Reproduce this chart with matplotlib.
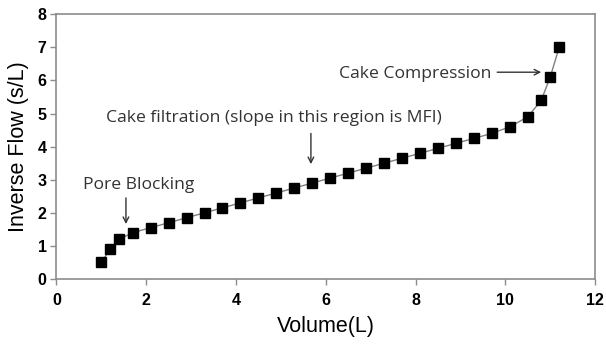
import numpy as np
import matplotlib.pyplot as plt

# filtration test: inverse flow vs. filtered volume
volume = [1.0, 1.2, 1.4, 1.7, 2.1, 2.5, 2.9, 3.3, 3.7, 4.1, 4.5, 4.9, 5.3, 5.7,
          6.1, 6.5, 6.9, 7.3, 7.7, 8.1, 8.5, 8.9, 9.3, 9.7, 10.1, 10.5, 10.8,
          11.0, 11.2]
inverse_flow = [0.5, 0.9, 1.2, 1.4, 1.55, 1.7, 1.85, 2.0, 2.15, 2.3, 2.45, 2.6,
                2.75, 2.9, 3.05, 3.2, 3.35, 3.5, 3.65, 3.8, 3.95, 4.1, 4.25,
                4.4, 4.6, 4.9, 5.4, 6.1, 7.0]

x_ticks = [0, 2, 4, 6, 8, 10, 12]
y_ticks = [0, 1, 2, 3, 4, 5, 6, 7, 8]

note_font = ["Open Sans", "DejaVu Sans"]
note_size = 12.6
note_color = "#333333"
frame_color = "#8c8c8c"

fig = plt.figure(figsize=(6.06, 3.49), dpi=100)
ax = fig.add_axes([0.093, 0.2006, 0.889, 0.7584])

ax.plot(volume, inverse_flow, "-", color="#808080", linewidth=1.0, zorder=2)
ax.plot(volume, inverse_flow, "s", color="black", markersize=7.2, zorder=3)

ax.set_xlim(0, 12)
ax.set_ylim(0, 8)
ax.set_xticks(x_ticks)
ax.set_yticks(y_ticks)
ax.set_xticklabels([str(t) for t in x_ticks], fontweight="bold",
                   fontsize=11.5, family="Liberation Sans")
ax.set_yticklabels([str(t) for t in y_ticks], fontweight="bold",
                   fontsize=11.5, family="Liberation Sans")
ax.tick_params(axis="both", direction="out", length=4, width=1,
               color=frame_color)
ax.tick_params(axis="x", pad=6)
ax.tick_params(axis="y", pad=3)

for side in ["left", "right", "top", "bottom"]:
    ax.spines[side].set_color(frame_color)
    ax.spines[side].set_linewidth(1.2)

ax.set_xlabel("Volume(L)", fontsize=15.5, family="Liberation Sans", labelpad=6)
ax.set_ylabel("Inverse Flow (s/L)", fontsize=15.5, family="Liberation Sans",
              labelpad=6)

arrow = dict(arrowstyle="->", color=note_color, lw=1.0, shrinkA=0, shrinkB=0)

ax.text(0.59, 2.71, "Pore Blocking", fontsize=note_size, family=note_font,
        color=note_color, va="baseline", ha="left")
ax.annotate("", xy=(1.55, 1.66), xytext=(1.55, 2.45), arrowprops=arrow)

ax.text(1.11, 4.73, "Cake filtration (slope in this region is MFI)",
        fontsize=note_size, family=note_font, color=note_color,
        va="baseline", ha="left")
ax.annotate("", xy=(5.67, 3.47), xytext=(5.67, 4.4), arrowprops=arrow)

ax.text(9.68, 6.09, "Cake Compression", fontsize=note_size, family=note_font,
        color=note_color, va="baseline", ha="right")
ax.annotate("", xy=(10.8, 6.25), xytext=(9.82, 6.25), arrowprops=arrow)

fig.savefig("out.png", dpi=100)
